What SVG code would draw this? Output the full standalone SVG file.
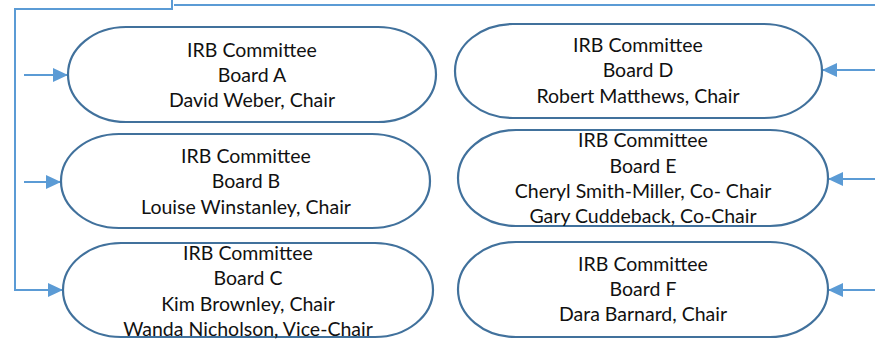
<svg xmlns="http://www.w3.org/2000/svg" width="875" height="339" viewBox="0 0 875 339">
<style>
.node{fill:#fff;stroke:#41719C;stroke-width:2.2}
.conn{fill:none;stroke:#5B9BD5;stroke-width:2}
text{font-family:Lato,"Liberation Sans",sans-serif;font-size:19.5px;fill:#111;text-anchor:middle}
</style>
<defs>
<marker id="ah" markerUnits="userSpaceOnUse" markerWidth="15" markerHeight="14" refX="15" refY="7" orient="auto">
<path d="M0,0 L15,7 L0,14 Z" fill="#5B9BD5"/>
</marker>
</defs>
<g id="connectors">
<path class="conn" d="M172,0 V9 H15 V290 H63" marker-end="url(#ah)"/>
<path class="conn" d="M174,5 H875"/>
<path class="conn" d="M24,75 H68" marker-end="url(#ah)"/>
<path class="conn" d="M24,182 H61" marker-end="url(#ah)"/>
<path class="conn" d="M875,70 H822" marker-end="url(#ah)"/>
<path class="conn" d="M875,179 H828" marker-end="url(#ah)"/>
<path class="conn" d="M875,290 H828" marker-end="url(#ah)"/>
</g>
<g id="boardA">
<rect class="node" x="68" y="27" width="368" height="95" rx="58" ry="47.5"/>
<text x="252" y="57">IRB Committee</text>
<text x="252" y="82">Board A</text>
<text x="252" y="107">David Weber, Chair</text>
</g>
<g id="boardB">
<rect class="node" x="61" y="134" width="369" height="94" rx="58" ry="47"/>
<text x="246" y="163">IRB Committee</text>
<text x="246" y="188">Board B</text>
<text x="246" y="214">Louise Winstanley, Chair</text>
</g>
<g id="boardC">
<rect class="node" x="63" y="243" width="370" height="94" rx="58" ry="47"/>
<text x="248" y="260">IRB Committee</text>
<text x="248" y="285">Board C</text>
<text x="248" y="311">Kim Brownley, Chair</text>
<text x="248" y="336">Wanda Nicholson, Vice-Chair</text>
</g>
<g id="boardD">
<rect class="node" x="455" y="24" width="367" height="94" rx="58" ry="47"/>
<text x="638" y="52">IRB Committee</text>
<text x="638" y="77">Board D</text>
<text x="638" y="103">Robert Matthews, Chair</text>
</g>
<g id="boardE">
<rect class="node" x="458" y="130" width="370" height="96" rx="58" ry="48"/>
<text x="643" y="147">IRB Committee</text>
<text x="643" y="173">Board E</text>
<text x="643" y="198">Cheryl Smith-Miller, Co- Chair</text>
<text x="643" y="223">Gary Cuddeback, Co-Chair</text>
</g>
<g id="boardF">
<rect class="node" x="458" y="242" width="370" height="95" rx="58" ry="47.5"/>
<text x="643" y="271">IRB Committee</text>
<text x="643" y="296">Board F</text>
<text x="643" y="321">Dara Barnard, Chair</text>
</g>
</svg>
